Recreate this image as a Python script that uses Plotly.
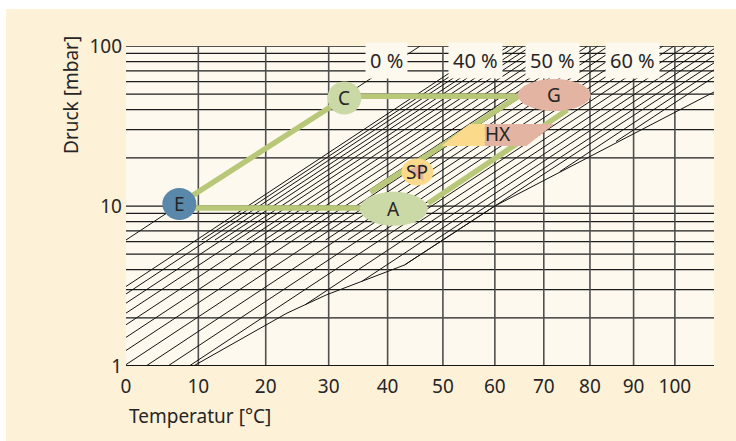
import numpy as np
import plotly.graph_objects as go

# ---------------- data ----------------
temp_ticks = [0, 10, 20, 30, 40, 50, 60, 70, 80, 90, 100]
pressure_ticks = [1, 10, 100]
h_grid_p = [1, 2, 3, 4, 5, 6, 7, 8, 9, 10, 20, 30, 40, 50, 60, 70, 80, 90, 100]
v_grid_T = [10, 20, 30, 40, 50, 60, 70, 80, 90, 100]

# 0 % line (pure water)
water_T = [0.0, 45.8]
water_p = [6.13, 100.0]

# LiBr solution lines (concentration in %), low end and high end of each line
iso_conc = [40, 41, 42, 43, 44, 45, 46, 47, 48, 49, 50, 51, 52, 53, 54,
            55, 56, 57, 58, 59, 60, 61, 62, 63, 64, 65, 66, 67, 68]
iso_T_lo = [0.0, 10.5, 0.0, 12.4, 0.0, 14.6, 0.0, 17.1, 0.0, 19.8, 0.0, 23.0, 0.0, 26.1, 0.0,
            29.5, 2.7, 33.2, 5.7, 36.9, 8.7, 40.7, 26.3, 44.7, 35.6, 48.6, 43.0, 73.4, 85.9]
iso_p_lo = [3.14, 6.13, 2.82, 6.13, 2.47, 6.13, 2.14, 6.13, 1.81, 6.13, 1.51, 6.13, 1.25, 6.13, 1.02,
            6.13, 1.0, 6.13, 1.0, 6.13, 1.0, 6.13, 2.43, 6.13, 3.39, 6.13, 4.28, 16.4, 25.3]
iso_T_hi = [59.1, 60.2, 61.4, 62.8, 64.2, 65.8, 67.4, 69.1, 71.0, 73.0, 75.2, 77.4, 79.5, 81.8, 84.2,
            86.7, 89.2, 91.9, 94.5, 97.1, 99.8, 102.7, 105.5, 108.3, 111.1, 114.0, 116.9, 119.7, 122.7]
iso_p_hi = [100.0] * 29

# crystallisation boundary
cryst_T = [9.3, 23.3, 29.6, 37.0, 40.4, 43.0, 60.0, 110.0]
cryst_p = [1.0, 2.14, 2.78, 3.55, 3.98, 4.28, 10.0, 51.6]

# concentration labels
conc_labels = ["0 %", "40 %", "50 %", "60 %"]

# state points of the cycle
state_names = ["E", "C", "A", "G", "SP", "HX"]
state_T = [7.3, 32.6, 41.1, 72.2, 45.3, 60.6]
state_p = [10.3, 47.3, 9.6, 49.4, 16.3, 28.2]

# cycle connections (green)
cyc_EC_T = [7.3, 32.6];  cyc_EC_p = [10.3, 47.3]
cyc_CG_T = [32.6, 72.2]; cyc_CG_p = [48.6, 48.6]
cyc_EA_T = [7.3, 41.1];  cyc_EA_p = [9.7, 9.7]
cyc_AG1_T = [37.0, 64.5]; cyc_AG1_p = [12.2, 48.0]
cyc_AG2_T = [47.3, 75.0]; cyc_AG2_p = [10.4, 39.8]


# ---------------- axis transform (1/T scale) ----------------
def tx(T):
    T = np.asarray(T, dtype=float)
    return 1000.0 * (1.0 / 273.15 - 1.0 / (T + 273.15))


FONT = "Noto Sans"
TXT = "#262626"
PLOT_BG = "#fef9ee"
PANEL_BG = "#fdf1d8"
GREEN = "#b9c778"
LIGHT_GREEN = "#cad9a6"
SALMON = "#e3b4a2"
YELLOW = "#fcda8b"
BLUE = "#5a88aa"

fig = go.Figure()

# grid: horizontal
hx, hy = [], []
for p in h_grid_p:
    hx += [float(tx(0)), float(tx(110)), None]
    hy += [p, p, None]
fig.add_trace(go.Scatter(x=hx, y=hy, mode="lines", line=dict(color="#1c1c1c", width=1.25),
                         hoverinfo="skip", showlegend=False))
# grid: vertical
vx, vy = [], []
for t in v_grid_T:
    vx += [float(tx(t)), float(tx(t)), None]
    vy += [1, 100, None]
fig.add_trace(go.Scatter(x=vx, y=vy, mode="lines", line=dict(color="#505050", width=1.6),
                         hoverinfo="skip", showlegend=False))

# isosteres
ix, iy = [], []
for a, b, c, d in zip(iso_T_lo, iso_p_lo, iso_T_hi, iso_p_hi):
    ix += [float(tx(a)), float(tx(c)), None]
    iy += [b, d, None]
ix += [float(v) for v in tx(water_T)] + [None]
iy += water_p + [None]
ix += [float(v) for v in tx(cryst_T)]
iy += cryst_p
fig.add_trace(go.Scatter(x=ix, y=iy, mode="lines", line=dict(color="#141414", width=1.0),
                         hoverinfo="skip", showlegend=False))

# bottom axis line (1 mbar)
fig.add_trace(go.Scatter(x=[float(tx(0)), float(tx(110))], y=[1, 1], mode="lines",
                         line=dict(color="#141414", width=2), hoverinfo="skip", showlegend=False))

# cycle
for xs, ys in [(cyc_EC_T, cyc_EC_p), (cyc_CG_T, cyc_CG_p), (cyc_EA_T, cyc_EA_p),
               (cyc_AG1_T, cyc_AG1_p), (cyc_AG2_T, cyc_AG2_p)]:
    fig.add_trace(go.Scatter(x=tx(xs), y=ys, mode="lines", line=dict(color=GREEN, width=5.5),
                             hoverinfo="skip", showlegend=False))

# invisible trace on the linear helper axis (log10 of pressure) used for marker shapes
fig.add_trace(go.Scatter(x=[float(tx(50))], y=[1.0], yaxis="y2", mode="markers",
                         marker=dict(opacity=0), hoverinfo="skip", showlegend=False))

shapes = [
    dict(type="rect", xref="paper", yref="paper", x0=-0.2041, x1=1.0374, y0=-0.2344, y1=1.1156,
         fillcolor=PANEL_BG, line_width=0, layer="below"),
    dict(type="rect", xref="paper", yref="paper", x0=0, x1=1, y0=0, y1=1,
         fillcolor=PLOT_BG, line_width=0, layer="below"),
]

marker_geom = {
    "E": (34, 32, BLUE),
    "C": (34, 33, LIGHT_GREEN),
    "A": (68, 34, LIGHT_GREEN),
    "G": (73, 32, SALMON),
    "SP": (32, 27, YELLOW),
}


def pix_shape(t, p, **kw):
    d = dict(xref="x", yref="y2", xsizemode="pixel", ysizemode="pixel",
             xanchor=float(tx(t)), yanchor=float(np.log10(p)), line_width=0, layer="above")
    d.update(kw)
    return d


for name, t, p in zip(state_names, state_T, state_p):
    if name in marker_geom:
        w, h, col = marker_geom[name]
        shapes.append(pix_shape(t, p, type="circle", x0=-w / 2, x1=w / 2, y0=-h / 2, y1=h / 2,
                                fillcolor=col))
    if name == "SP":
        shapes.append(pix_shape(t, p, type="path", path="M -10 1 L 6 9 L 6 -9 Z", fillcolor=SALMON))
    if name == "HX":
        shapes.append(pix_shape(t, p, type="path", path="M -56.5 -12 L -28.5 10 L -13 10 L -13 -12 Z",
                                fillcolor=YELLOW))
        shapes.append(pix_shape(t, p, type="path", path="M -13 10 L 56.5 10 L 28.5 -12 L -13 -12 Z",
                                fillcolor=SALMON))

annotations = []
for name, t, p in zip(state_names, state_T, state_p):
    annotations.append(dict(x=float(tx(t)), y=float(np.log10(p)), xref="x", yref="y", text=name,
                            showarrow=False, xanchor="center", yanchor="middle",
                            font=dict(family=FONT, size=19, color=TXT)))

label_pos = [(39.8, 80.6), (56.2, 80.6), (71.9, 80.6), (89.8, 80.6)]
for txt, (t, p) in zip(conc_labels, label_pos):
    annotations.append(dict(x=float(tx(t)), y=float(np.log10(p)), xref="x", yref="y", text=txt,
                            showarrow=False, bgcolor=PLOT_BG, borderpad=4,
                            xanchor="center", yanchor="middle",
                            font=dict(family=FONT, size=20, color=TXT)))

annotations.append(dict(x=-0.0935, y=0.847, xref="paper", yref="paper", text="Druck [mbar]",
                        textangle=-90, showarrow=False, xanchor="center", yanchor="middle",
                        font=dict(family=FONT, size=19, color=TXT)))
annotations.append(dict(x=0.0017, y=-0.156, xref="paper", yref="paper", text="Temperatur [°C]",
                        xanchor="left", yanchor="middle", showarrow=False,
                        font=dict(family=FONT, size=19, color=TXT)))

fig.update_layout(
    width=736, height=441,
    margin=dict(l=126, r=22, t=46, b=75),
    paper_bgcolor="white",
    plot_bgcolor="rgba(0,0,0,0)",
    shapes=shapes,
    annotations=annotations,
    showlegend=False,
    font=dict(family=FONT, size=19, color=TXT),
    xaxis=dict(range=[float(tx(0)), float(tx(110))], tickvals=[float(v) for v in tx(temp_ticks)],
               ticktext=[str(t) for t in temp_ticks], showgrid=False, zeroline=False,
               showline=False, ticks="", ticklabelstandoff=7,
               tickfont=dict(family=FONT, size=19, color=TXT)),
    yaxis=dict(type="log", range=[0, 2], tickvals=pressure_ticks,
               ticktext=[str(p) for p in pressure_ticks], showgrid=False, zeroline=False,
               showline=False, ticks="", ticklabelstandoff=3,
               tickfont=dict(family=FONT, size=19, color=TXT)),
    yaxis2=dict(overlaying="y", range=[0, 2], visible=False, fixedrange=True),
)

fig.write_html("out.html", config={"displayModeBar": False},
               post_script="document.body.style.margin='0px';")
